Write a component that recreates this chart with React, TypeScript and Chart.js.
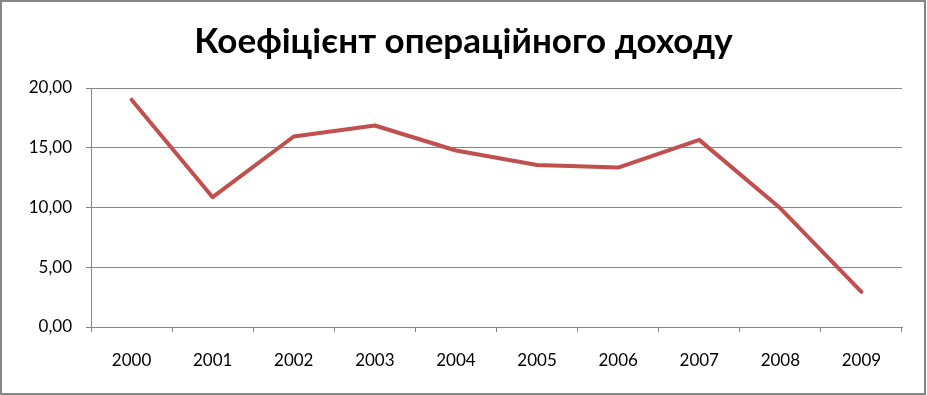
import React, { useEffect, useRef } from "react";
import { Chart, registerables } from "chart.js";

Chart.register(...registerables);

const titleText = "Коефіцієнт операційного доходу";
const years = ["2000", "2001", "2002", "2003", "2004", "2005", "2006", "2007", "2008", "2009"];
const ratioValues = [19.02, 10.86, 15.94, 16.86, 14.77, 13.56, 13.34, 15.66, 9.93, 2.94];
const yTicks = [0, 5, 10, 15, 20];

const GRAY = "#868686";

const framePlugin = {
  id: "frame",
  afterDraw(chart: any) {
    const ctx = chart.ctx;
    ctx.save();
    ctx.strokeStyle = GRAY;
    ctx.lineWidth = 2;
    ctx.strokeRect(1, 1, chart.width - 3, chart.height - 2);
    ctx.restore();
  },
};

export default function App() {
  const ref = useRef<HTMLCanvasElement>(null);
  useEffect(() => {
    if (!ref.current) return;
    const chart = new Chart(ref.current, {
      type: "line",
      data: {
        labels: years,
        datasets: [
          {
            data: ratioValues,
            borderColor: "#C0504D",
            backgroundColor: "#C0504D",
            borderWidth: 4,
            pointRadius: 0,
            pointHoverRadius: 0,
            tension: 0,
            borderJoinStyle: "round",
            borderCapStyle: "round",
            fill: false,
            yAxisID: "y",
          },
        ],
      },
      options: {
        responsive: false,
        animation: false,
        layout: { padding: 0 },
        plugins: {
          legend: { display: false },
          tooltip: { enabled: false },
          title: {
            display: true,
            text: titleText,
            color: "#000",
            font: { family: "Lato", size: 35, weight: "bold", lineHeight: 1.2 },
            padding: { top: 21, bottom: 25 },
          },
        },
        scales: {
          x: {
            type: "category",
            offset: true,
            grid: {
              offset: true,
              drawOnChartArea: false,
              drawTicks: true,
              tickLength: 5,
              color: GRAY,
            },
            border: { display: true, color: GRAY, width: 1 },
            ticks: {
              color: "#000",
              font: { family: "Lato", size: 17 },
              padding: 18,
              maxRotation: 0,
            },
            afterFit(scale: any) {
              scale.height = 68;
            },
          },
          y: {
            position: "left",
            min: 0,
            max: 20,
            afterBuildTicks(scale: any) {
              scale.ticks = yTicks.map((v) => ({ value: v }));
            },
            grid: {
              color: GRAY,
              drawTicks: true,
              tickLength: 5,
            },
            border: { display: true, color: GRAY, width: 1 },
            ticks: {
              color: "#000",
              font: { family: "Lato", size: 17 },
              padding: 14,
              callback: (v: any) => Number(v).toFixed(2).replace(".", ","),
            },
            afterFit(scale: any) {
              scale.width = 91;
            },
          },
          yRight: {
            position: "right",
            min: 0,
            max: 20,
            grid: { display: false, drawTicks: false },
            border: { display: false },
            ticks: { display: false },
            afterFit(scale: any) {
              scale.width = 25;
            },
          },
        },
      },
      plugins: [framePlugin],
    });
    return () => chart.destroy();
  }, []);
  return (
    <div style={{ position: "fixed", left: 0, top: 0, width: 927, height: 395, background: "#fff" }}>
      <canvas ref={ref} width={927} height={395} style={{ display: "block" }} />
    </div>
  );
}
